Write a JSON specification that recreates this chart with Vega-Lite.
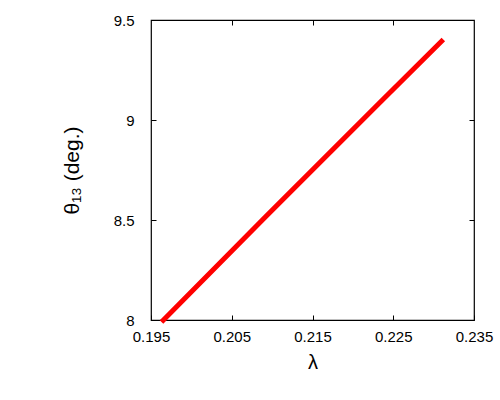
{
  "$schema": "https://vega.github.io/schema/vega-lite/v6.json",
  "width": 323,
  "height": 300,
  "autosize": "none",
  "padding": {"left": 151, "top": 20, "right": 26, "bottom": 80},
  "background": "white",
  "config": {
    "view": {"stroke": "black", "strokeWidth": 1.2},
    "axis": {
      "grid": false,
      "domain": false,
      "ticks": true,
      "tickColor": "black",
      "tickSize": -5,
      "labelColor": "black",
      "labelFont": "Liberation Sans",
      "labelFontSize": 15,
      "titleFont": "Liberation Sans",
      "titleFontWeight": "normal",
      "titleColor": "black"
    }
  },
  "data": {
    "values": [
      {"lambda": 0.1963, "theta": 7.99},
      {"lambda": 0.2091, "theta": 8.512},
      {"lambda": 0.2231, "theta": 9.078},
      {"lambda": 0.2312, "theta": 9.403}
    ]
  },
  "layer": [
    {
      "mark": {"type": "line", "color": "#ff0000", "strokeWidth": 5, "clip": false},
      "encoding": {
        "x": {
          "field": "lambda", "type": "quantitative",
          "scale": {"domain": [0.195, 0.235], "nice": false, "zero": false},
          "axis": {"orient": "bottom", "values": [0.195, 0.205, 0.215, 0.225, 0.235], "format": ".3f", "labelPadding": 14, "title": "λ", "titleFontSize": 20, "titlePadding": 8, "labelFlush": false}
        },
        "y": {
          "field": "theta", "type": "quantitative",
          "scale": {"domain": [8, 9.5], "nice": false, "zero": false},
          "axis": {"orient": "left", "values": [8, 8.5, 9, 9.5], "format": "~g", "labelPadding": 22, "title": "θ₁₃ (deg.)", "titleFontSize": 21, "titlePadding": 31, "labelFlush": false}
        }
      }
    },
    {
      "mark": {"type": "point", "opacity": 0},
      "encoding": {
        "x": {
          "field": "lambda", "type": "quantitative",
          "scale": {"domain": [0.195, 0.235], "nice": false, "zero": false},
          "axis": {"orient": "top", "values": [0.205, 0.215, 0.225], "labels": false, "title": null}
        },
        "y": {
          "field": "theta", "type": "quantitative",
          "scale": {"domain": [8, 9.5], "nice": false, "zero": false},
          "axis": {"orient": "right", "values": [8.5, 9], "labels": false, "title": null}
        }
      }
    }
  ],
  "resolve": {"axis": {"x": "independent", "y": "independent"}}
}
